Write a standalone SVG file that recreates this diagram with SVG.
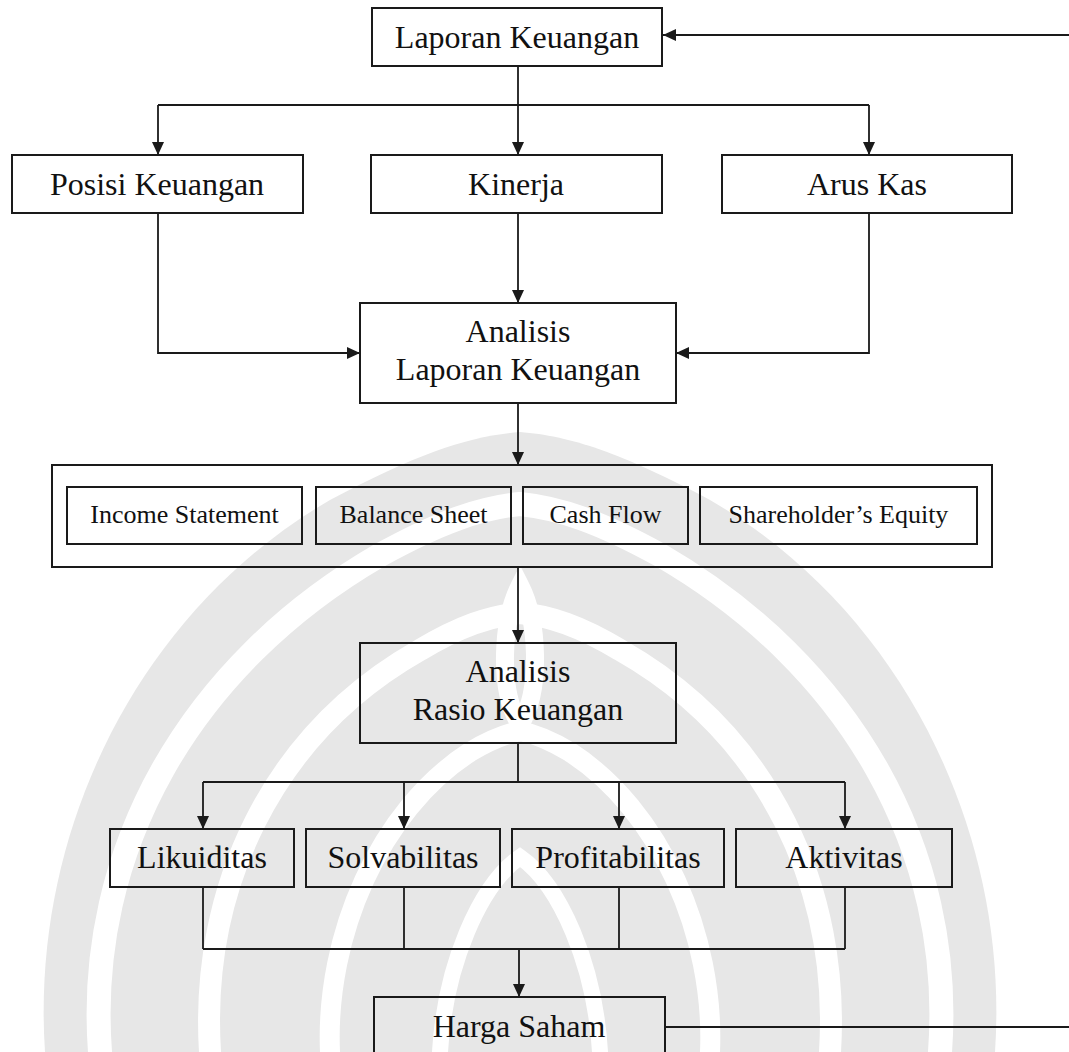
<svg xmlns="http://www.w3.org/2000/svg" width="1069" height="1052" viewBox="0 0 1069 1052">
<style>
.box{fill:none;stroke:#1a1a1a;stroke-width:2}
.t{font-family:"Liberation Serif","Times New Roman",serif;font-size:32px;fill:#111;text-anchor:middle}
.s{font-family:"Liberation Serif","Times New Roman",serif;font-size:26px;fill:#111;text-anchor:middle}
.c{fill:none;stroke:#1a1a1a;stroke-width:1.8}
.wm{fill:#e7e7e7}
.wb{fill:none;stroke:#ffffff;stroke-linecap:round}
</style>
<defs>
<marker id="arr" markerUnits="userSpaceOnUse" markerWidth="13" markerHeight="12" refX="13" refY="6" orient="auto">
<path d="M0,0 L13,6 L0,12 z" fill="#1a1a1a"/>
</marker>
</defs>
<rect width="1069" height="1052" fill="#ffffff"/>

<g id="watermark">
<path class="wm" d="M45,1052 C30,830 140,610 330,500 C420,452 470,436 520,432 C570,436 620,452 710,500 C900,610 1010,830 995,1052 Z"/>
<path class="wb" stroke-width="24" d="M100,1052 C85,850 190,665 380,555 C440,522 480,508 520,504 C560,508 600,522 660,555 C850,665 955,850 940,1052"/>
<path class="wb" stroke-width="22" d="M210,1052 C200,890 270,735 420,650 C460,626 490,616 520,613 C550,616 580,626 620,650 C770,735 840,890 830,1052"/>
<path class="wb" stroke-width="20" d="M330,1052 C325,935 380,810 470,752 C495,737 510,733 520,731 C530,733 545,737 570,752 C660,810 715,935 710,1052"/>
<path class="wb" stroke-width="18" d="M520,585 C502,620 498,690 520,725 C542,690 538,620 520,585 Z"/>
<path class="wb" stroke-width="16" d="M440,1052 C445,965 480,885 520,857 C560,885 595,965 600,1052"/>
</g>

<g id="connectors">
<line class="c" x1="1069" y1="35" x2="663" y2="35" marker-end="url(#arr)"/>
<line class="c" x1="518" y1="66" x2="518" y2="105"/>
<line class="c" x1="158" y1="105" x2="869" y2="105"/>
<line class="c" x1="158" y1="105" x2="158" y2="155" marker-end="url(#arr)"/>
<line class="c" x1="518" y1="105" x2="518" y2="155" marker-end="url(#arr)"/>
<line class="c" x1="869" y1="105" x2="869" y2="155" marker-end="url(#arr)"/>
<polyline class="c" points="158,213 158,353 360,353" marker-end="url(#arr)"/>
<line class="c" x1="518" y1="213" x2="518" y2="303" marker-end="url(#arr)"/>
<polyline class="c" points="869,213 869,353 676,353" marker-end="url(#arr)"/>
<line class="c" x1="518" y1="403" x2="518" y2="465" marker-end="url(#arr)"/>
<line class="c" x1="518" y1="567" x2="518" y2="643" marker-end="url(#arr)"/>
<line class="c" x1="518" y1="743" x2="518" y2="782"/>
<line class="c" x1="203" y1="782" x2="845" y2="782"/>
<line class="c" x1="203" y1="782" x2="203" y2="829" marker-end="url(#arr)"/>
<line class="c" x1="404" y1="782" x2="404" y2="829" marker-end="url(#arr)"/>
<line class="c" x1="619" y1="782" x2="619" y2="829" marker-end="url(#arr)"/>
<line class="c" x1="845" y1="782" x2="845" y2="829" marker-end="url(#arr)"/>
<line class="c" x1="203" y1="887" x2="203" y2="949"/>
<line class="c" x1="404" y1="887" x2="404" y2="949"/>
<line class="c" x1="619" y1="887" x2="619" y2="949"/>
<line class="c" x1="845" y1="887" x2="845" y2="949"/>
<line class="c" x1="203" y1="949" x2="845" y2="949"/>
<line class="c" x1="519" y1="949" x2="519" y2="997" marker-end="url(#arr)"/>
<line class="c" x1="665" y1="1027" x2="1069" y2="1027"/>
</g>

<g id="laporan-keuangan">
<rect class="box" x="372" y="8" width="290" height="58"/>
<text class="t" x="517" y="48">Laporan Keuangan</text>
</g>
<g id="posisi-keuangan">
<rect class="box" x="12" y="155" width="291" height="58"/>
<text class="t" x="157" y="195">Posisi Keuangan</text>
</g>
<g id="kinerja">
<rect class="box" x="371" y="155" width="291" height="58"/>
<text class="t" x="516" y="195">Kinerja</text>
</g>
<g id="arus-kas">
<rect class="box" x="722" y="155" width="290" height="58"/>
<text class="t" x="867" y="195">Arus Kas</text>
</g>
<g id="analisis-laporan-keuangan">
<rect class="box" x="360" y="303" width="316" height="100"/>
<text class="t" x="518" y="342">Analisis</text>
<text class="t" x="518" y="380">Laporan Keuangan</text>
</g>
<g id="laporan-group">
<rect class="box" x="52" y="465" width="940" height="102"/>
</g>
<g id="income-statement">
<rect class="box" x="67" y="487" width="235" height="57"/>
<text class="s" x="184.5" y="523">Income Statement</text>
</g>
<g id="balance-sheet">
<rect class="box" x="316" y="487" width="195" height="57"/>
<text class="s" x="413.5" y="523">Balance Sheet</text>
</g>
<g id="cash-flow">
<rect class="box" x="523" y="487" width="165" height="57"/>
<text class="s" x="605.5" y="523">Cash Flow</text>
</g>
<g id="shareholders-equity">
<rect class="box" x="700" y="487" width="277" height="57"/>
<text class="s" x="838.5" y="523">Shareholder’s Equity</text>
</g>
<g id="analisis-rasio-keuangan">
<rect class="box" x="360" y="643" width="316" height="100"/>
<text class="t" x="518" y="682">Analisis</text>
<text class="t" x="518" y="720">Rasio Keuangan</text>
</g>
<g id="likuiditas">
<rect class="box" x="110" y="829" width="184" height="58"/>
<text class="t" x="202" y="868">Likuiditas</text>
</g>
<g id="solvabilitas">
<rect class="box" x="306" y="829" width="194" height="58"/>
<text class="t" x="403" y="868">Solvabilitas</text>
</g>
<g id="profitabilitas">
<rect class="box" x="512" y="829" width="212" height="58"/>
<text class="t" x="618" y="868">Profitabilitas</text>
</g>
<g id="aktivitas">
<rect class="box" x="736" y="829" width="216" height="58"/>
<text class="t" x="844" y="868">Aktivitas</text>
</g>
<g id="harga-saham">
<rect class="box" x="374" y="997" width="291" height="70"/>
<text class="t" x="519" y="1037">Harga Saham</text>
</g>
</svg>
